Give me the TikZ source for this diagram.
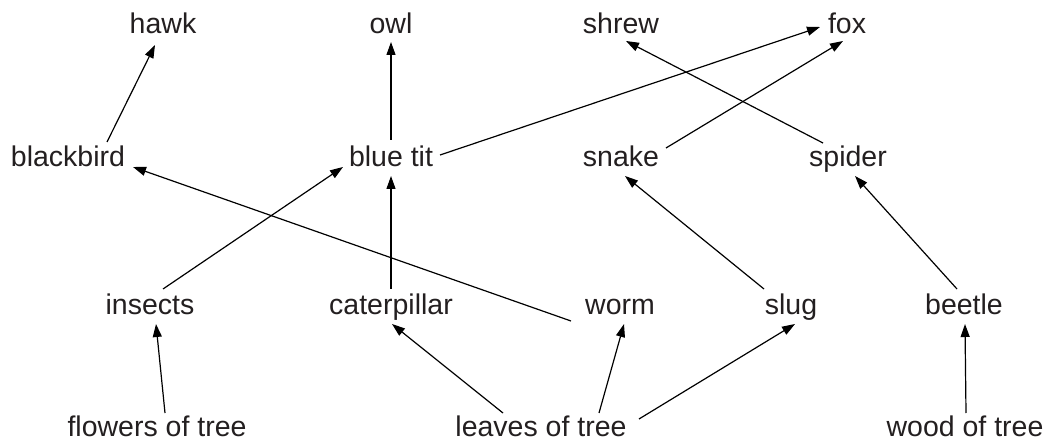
\documentclass[tikz,border=0pt]{standalone}
\usepackage{fontspec}
\setmainfont{Liberation Sans}
\usetikzlibrary{arrows.meta}
\definecolor{ink}{HTML}{231F20}
\begin{document}
\begin{tikzpicture}[x=1pt,y=-1pt,
  lbl/.style={anchor=base,inner sep=0pt,font=\fontsize{28.5}{30}\selectfont,text=ink},
  arr/.style={draw=black,line width=1.2pt,-{Triangle[length=13pt,width=9pt]}}]
\useasboundingbox (0,0) rectangle (1052,446);
\node[lbl] (hawk) at (163,34) {hawk};
\node[lbl] (owl) at (391,34) {owl};
\node[lbl] (shrew) at (621,34) {shrew};
\node[lbl] (fox) at (847,34) {fox};
\node[lbl] (bb) at (68,167) {blackbird};
\node[lbl] (bt) at (391,167) {blue tit};
\node[lbl] (snake) at (621,167) {snake};
\node[lbl] (spider) at (848,167) {spider};
\node[lbl] (ins) at (150,315) {insects};
\node[lbl] (cat) at (391,315) {caterpillar};
\node[lbl] (worm) at (620,315) {worm};
\node[lbl] (slug) at (791,315) {slug};
\node[lbl] (beetle) at (964,315) {beetle};
\node[lbl] (fl) at (157,436) {flowers of tree};
\node[lbl] (lv) at (541,436) {leaves of tree};
\node[lbl] (wood) at (965,436) {wood of tree};
\draw[arr] ([shift={(39,-25)}]bb.base) -- ([shift={(-8,11)}]hawk.base);
\draw[arr] ([shift={(0,-27)}]bt.base) -- ([shift={(0,8)}]owl.base);
\draw[arr] ([shift={(49,-12)}]bt.base) -- ([shift={(-27,-7)}]fox.base);
\draw[arr] ([shift={(45,-19)}]snake.base) -- ([shift={(-4,7)}]fox.base);
\draw[arr] ([shift={(-25,-24)}]spider.base) -- ([shift={(5,7)}]shrew.base);
\draw[arr] ([shift={(-49,6)}]worm.base) -- ([shift={(65,0)}]bb.base);
\draw[arr] ([shift={(13,-26)}]ins.base) -- ([shift={(-48,0)}]bt.base);
\draw[arr] ([shift={(0,-26)}]cat.base) -- ([shift={(0,9)}]bt.base);
\draw[arr] ([shift={(-27,-26)}]slug.base) -- ([shift={(4,9)}]snake.base);
\draw[arr] ([shift={(-7,-26)}]beetle.base) -- ([shift={(7,9)}]spider.base);
\draw[arr] ([shift={(8,-23)}]fl.base) -- ([shift={(6,9)}]ins.base);
\draw[arr] ([shift={(-38,-23)}]lv.base) -- ([shift={(1,9)}]cat.base);
\draw[arr] ([shift={(58,-23)}]lv.base) -- ([shift={(4,9)}]worm.base);
\draw[arr] ([shift={(98,-17)}]lv.base) -- ([shift={(4,9)}]slug.base);
\draw[arr] ([shift={(1,-23)}]wood.base) -- ([shift={(1,9)}]beetle.base);
\end{tikzpicture}
\end{document}
